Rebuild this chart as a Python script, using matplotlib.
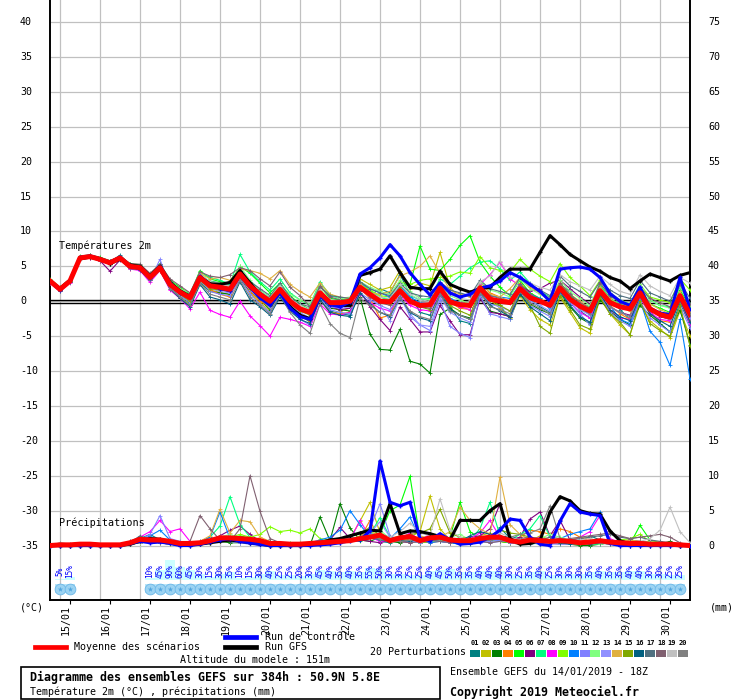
import numpy as np
import matplotlib.pyplot as plt
from matplotlib.lines import Line2D
from matplotlib.patches import Rectangle

plt.rcParams['font.family'] = ['DejaVu Sans Mono']

W, H = 740, 700

# pas de 6h depuis le 14/01 18Z (0 .. 64 = 384h)
steps = np.arange(65)
day_steps = list(range(1, 64, 4))
days = ['15/01', '16/01', '17/01', '18/01', '19/01', '20/01', '21/01', '22/01',
        '23/01', '24/01', '25/01', '26/01', '27/01', '28/01', '29/01', '30/01']

# --- temperatures 2m (degC) ---
mean_temp = [2.9, 1.7, 2.9, 6.2, 6.4, 6.0, 5.5, 6.2, 5.0, 4.8, 3.4, 4.8, 2.4,
             1.3, 0.5, 3.4, 2.2, 2.0, 1.7, 3.9, 2.2, 1.0, 0.0, 1.7, 0.0, -1.1,
             -1.6, 1.2, -0.2, -0.2, 0.0, 2.0, 1.0, 0.0, -0.1, 1.5, 0.0, -0.6, -0.5,
             1.9, -0.1, -0.5, -0.6, 1.9, 0.3, 0.0, -0.2, 1.8, 0.5, 0.0, -0.6, 1.9,
             0.3, -0.7, -1.4, 1.5, -0.2, -0.8, -1.1, 1.2, -1.1, -1.9, -2.3, 0.8, -1.9]
ctrl_temp = [2.8, 1.6, 3.0, 6.3, 6.5, 6.1, 5.6, 6.3, 5.1, 4.6, 3.3, 4.9, 2.6,
             1.2, 0.6, 3.6, 2.3, 1.8, 1.5, 3.7, 2.0, 0.5, -0.6, 1.2, -1.0, -2.2,
             -2.6, 0.8, -0.5, -0.8, -0.1, 3.9, 4.8, 6.2, 8.1, 6.5, 4.1, 2.4, 0.9,
             2.6, 1.2, 0.6, 1.0, 1.9, 2.2, 2.9, 4.1, 3.4, 2.4, 1.4, 0.0, 4.6,
             4.8, 4.9, 4.6, 3.4, 1.1, 0.0, -0.6, 2.0, -1.0, -1.7, -1.9, 3.4, -1.1]
gfs_temp = [2.8, 1.8, 3.0, 6.1, 6.3, 6.1, 5.4, 6.0, 5.2, 5.0, 3.6, 5.0, 2.7,
            1.5, 0.7, 3.5, 2.5, 2.4, 2.7, 4.4, 2.6, 1.0, -0.3, 1.5, -0.8, -2.0,
            -2.5, 0.9, -0.4, -0.6, -0.6, 3.7, 4.1, 4.6, 6.5, 4.1, 2.0, 1.8, 1.8,
            4.3, 2.4, 1.8, 1.3, 1.8, 2.0, 3.4, 4.6, 4.6, 4.6, 7.0, 9.4, 8.1,
            6.7, 5.8, 4.9, 4.3, 3.4, 2.9, 1.8, 2.9, 3.9, 3.4, 2.9, 3.7, 4.1]

temp_p01 = [3.1, 1.9, 3.1, 6.3, 6.6, 6.2, 5.6, 6.6, 5.3, 4.9, 3.6, 5.2, 2.9,
            1.0, -0.4, 3.0, 2.9, 2.6, 2.4, 4.1, 2.8, 1.2, 0.2, 1.9, -0.6, -2.0,
            -3.0, 0.6, -1.4, -1.8, -2.0, 1.6, 0.8, 1.8, 1.2, 3.8, 1.0, -1.6, -2.0,
            1.2, -0.8, -2.8, -3.2, 1.4, -0.4, -0.6, -2.6, 1.2, 0.2, -0.8, -1.6, 2.4,
            1.4, -1.4, -2.4, 2.0, 0.6, -1.2, -2.6, 0.4, -1.4, -3.2, -4.4, -0.2, -3.4]
temp_p02 = [2.7, 1.5, 2.8, 6.0, 6.3, 5.8, 5.3, 6.0, 4.6, 4.9, 3.2, 4.4, 2.0,
            0.6, -0.5, 2.8, 1.6, 1.3, 0.9, 3.4, 1.2, -0.2, -1.4, 1.2, -0.8, -2.2,
            -2.8, 1.4, -0.6, -1.4, -1.0, 3.2, 2.4, 1.6, 2.0, 4.4, 1.8, 2.6, 2.2,
            7.0, 2.0, 0.4, -0.8, 2.6, 0.2, -1.0, -2.4, 0.8, -1.2, -2.6, -3.4, 0.6,
            -1.6, -3.8, -4.6, 0.4, -1.8, -3.4, -4.8, -0.4, -2.8, -4.0, -5.2, -1.4, -5.0]
temp_p03 = [3.0, 1.8, 2.9, 6.4, 6.5, 6.1, 5.3, 6.3, 5.2, 4.6, 3.4, 5.0, 2.2,
            0.4, -0.6, 2.6, 1.4, 1.2, 1.0, 3.2, 1.4, 0.2, -1.2, 1.4, -0.6, -2.0,
            -2.6, 0.8, -1.0, -1.2, -1.4, 0.6, -4.7, -6.9, -7.0, -4.0, -8.6, -9.0, -10.3,
            -1.9, -1.0, -2.0, -2.4, 0.6, -1.4, -1.8, -2.2, 1.0, -0.4, -1.2, -1.8, 1.2,
            -0.8, -2.4, -3.2, 0.2, -1.4, -2.6, -3.4, -0.6, -2.0, -3.2, -4.4, -1.2, -6.2]
temp_p04 = [2.6, 1.6, 2.7, 6.1, 6.2, 5.8, 5.6, 6.1, 4.9, 4.5, 3.1, 4.6, 2.2,
            1.4, 0.2, 3.2, 1.6, 1.0, 0.6, 3.6, 1.4, 0.0, -0.8, 1.4, -0.8, -2.0,
            -2.8, 0.2, -1.6, -1.8, -1.6, 1.8, 0.4, -2.4, -2.0, 1.6, -0.2, -0.4, -0.6,
            1.6, -0.2, -1.0, -1.2, 2.8, 1.2, 0.6, 0.0, 2.6, 1.2, 0.2, -0.6, 1.8,
            0.4, -1.0, -1.8, 1.2, -0.6, -1.8, -2.6, 0.4, -1.8, -2.8, -3.0, 0.0, -2.8]
temp_p05 = [3.2, 2.0, 3.2, 6.5, 6.6, 6.3, 5.8, 6.4, 5.4, 5.2, 3.8, 5.4, 3.0,
            2.0, 1.0, 4.4, 3.2, 2.8, 2.6, 5.0, 4.0, 2.6, 1.2, 2.6, 0.8, -0.4,
            -1.2, 2.2, 0.4, 0.2, 0.4, 2.8, 1.4, 0.6, 0.2, 2.2, 2.4, 7.9, 4.6,
            4.4, 6.0, 8.0, 9.4, 5.6, 3.6, 2.0, 0.8, 3.0, 1.2, 0.4, -0.8, 2.4,
            0.8, -0.6, -1.2, 2.2, 0.2, -0.6, -1.0, 2.0, -0.4, -1.0, -1.6, 1.6, -0.8]
temp_p06 = [2.8, 1.6, 2.8, 6.0, 6.2, 5.8, 4.3, 5.9, 4.8, 4.6, 3.2, 4.6, 2.0,
            1.0, 0.2, 3.8, 2.6, 2.0, 1.6, 3.6, 2.4, 0.6, -0.4, 2.2, 0.4, -1.2,
            -1.8, 1.0, -0.8, -1.2, -1.0, 1.4, -0.8, -2.6, -4.2, -0.8, -2.6, -4.4, -4.4,
            -0.6, -2.8, -4.8, -4.8, 0.4, -1.6, -1.8, -2.2, 2.2, 1.4, 1.8, 2.6, 3.0,
            1.8, 0.6, -0.4, 1.4, -0.8, -1.6, -2.0, 1.2, -1.2, -2.2, -2.6, 0.4, -2.2]
temp_p07 = [3.0, 1.8, 3.0, 6.2, 6.4, 6.1, 5.6, 6.4, 5.2, 4.9, 3.5, 5.1, 2.8,
            1.8, 0.8, 4.2, 3.4, 3.0, 2.4, 6.7, 4.2, 2.8, 1.6, 3.2, 1.2, 0.2,
            -0.6, 2.8, 0.8, 0.4, 0.0, 2.4, 1.4, 0.6, 0.2, 2.4, 0.8, 0.2, 0.4,
            3.2, 2.4, 3.6, 4.8, 5.6, 5.8, 4.6, 3.0, 4.2, 2.6, 1.4, 0.6, 2.6,
            1.0, -0.2, -0.8, 2.4, 0.4, -0.4, -1.0, 2.2, 0.2, -0.6, -0.8, 2.0, -0.4]
temp_p08 = [2.6, 1.4, 2.6, 6.0, 6.2, 5.8, 5.3, 6.0, 4.6, 4.4, 2.7, 4.4, 1.6,
            0.4, -1.1, 1.3, -1.3, -1.9, -2.3, 0.0, -2.1, -3.5, -5.0, -2.3, -2.6, -3.0,
            -3.6, -0.4, -1.8, -2.0, -1.6, 1.0, -0.2, -1.0, -1.4, 0.8, -0.6, -1.2, -1.4,
            1.2, -0.2, -0.8, -1.2, 2.4, 3.8, 5.6, 3.2, 2.2, 1.0, 0.0, -0.8, 1.4,
            -0.2, -1.6, -2.4, 0.8, -1.2, -2.4, -2.6, 0.4, -1.6, -2.6, -2.8, 0.2, -3.3]
temp_p09 = [3.0, 1.8, 3.0, 6.3, 6.5, 6.0, 5.6, 6.3, 5.0, 4.8, 3.5, 4.9, 2.6,
            1.6, 0.6, 3.6, 2.2, 2.2, 2.0, 4.2, 2.4, 1.2, 0.2, 2.0, 0.2, -0.8,
            -1.4, 1.6, 0.2, -0.2, 0.4, 2.4, 1.6, 0.8, 0.6, 2.8, 2.4, 3.0, 3.2,
            3.4, 3.6, 4.2, 4.0, 6.4, 4.8, 4.4, 4.2, 6.0, 4.6, 3.6, 2.8, 5.4,
            3.4, 2.2, 0.8, 3.0, 1.2, 0.2, -0.4, 2.4, 0.6, 0.2, -0.2, 3.2, 1.6]
temp_p10 = [2.8, 1.6, 2.9, 6.2, 6.4, 6.0, 5.7, 6.4, 5.1, 4.9, 3.5, 5.3, 2.6,
            1.2, 0.4, 3.6, 2.4, 2.2, 1.8, 4.4, 2.6, 1.4, 0.4, 2.0, 0.2, -1.0,
            -1.8, 0.8, -0.4, -0.6, -0.4, 2.6, 1.8, 1.2, 0.6, 2.2, 0.6, -0.2, -0.4,
            1.8, 0.4, -0.2, -0.4, 2.0, 0.8, 0.6, 0.4, 2.4, 1.0, 0.4, -1.2, 2.2,
            0.6, -0.8, -2.0, 1.6, -0.6, -2.6, -3.2, 0.2, -4.3, -5.9, -9.2, -2.6, -11.1]
temp_p11 = [2.7, 1.5, 2.7, 6.1, 6.3, 5.9, 5.4, 6.0, 4.8, 4.5, 3.0, 6.0, 2.0,
            0.8, -0.2, 3.0, 1.4, 1.0, 0.8, 3.2, 1.0, -0.4, -1.6, 1.0, -1.0, -2.6,
            -3.4, 0.4, -1.2, -1.6, -1.8, 1.2, 0.2, -0.6, -1.2, 0.8, -2.2, -3.4, -4.2,
            0.2, -3.6, -4.6, -5.2, 0.8, -1.8, -2.2, -2.6, 1.4, -0.6, -1.4, -2.2, 1.2,
            -0.2, -1.8, -3.4, 0.8, -1.6, -2.8, -3.6, 0.0, -2.4, -3.4, -4.4, -0.8, -3.8]
temp_p12 = [3.1, 1.9, 3.1, 6.4, 6.6, 6.1, 5.6, 6.3, 5.3, 5.0, 3.7, 5.0, 2.9,
            1.8, 1.2, 4.0, 2.8, 2.6, 2.2, 5.0, 3.0, 1.6, 0.6, 2.4, 1.0, 0.2,
            -0.4, 2.4, 1.0, 0.4, 0.6, 2.8, 2.0, 1.4, 1.0, 3.0, 1.4, 0.4, 0.2,
            2.4, 0.8, 0.2, -0.4, 2.8, 1.6, 1.2, 0.6, 3.2, 1.8, 1.0, 0.2, 3.0,
            1.4, 0.4, -0.6, 2.6, 0.8, 0.2, -0.4, 2.4, 0.2, -0.6, -1.0, 2.2, -0.6]
temp_p13 = [2.9, 1.6, 2.8, 6.1, 6.3, 5.9, 5.5, 6.1, 4.9, 4.7, 3.2, 4.7, 2.2,
            0.9, 0.0, 3.0, 1.8, 1.4, 1.2, 3.4, 1.6, 0.4, -0.8, 1.4, -0.4, -1.6,
            -2.4, 0.8, -0.8, -1.0, -0.8, 1.8, 0.6, -0.6, -2.8, 0.4, -1.8, -3.4, -3.6,
            0.6, -1.6, -2.4, -3.0, 1.2, -0.4, -0.8, -1.4, 1.6, 0.0, -0.6, -1.4, 1.6,
            0.0, -1.2, -2.0, 1.2, -0.8, -1.6, -2.2, 0.8, -1.2, -2.0, -2.6, 0.6, -2.4]
temp_p14 = [2.8, 1.7, 2.9, 6.2, 6.5, 6.1, 5.5, 6.2, 5.0, 4.9, 3.5, 4.9, 2.6,
            1.4, 0.6, 4.0, 3.2, 3.4, 3.0, 4.6, 4.4, 4.0, 3.2, 4.4, 2.4, 1.4,
            0.6, 2.6, 1.0, 0.6, 0.4, 2.6, 1.2, 1.0, 1.4, 3.6, 4.2, 5.0, 6.5,
            4.0, 1.6, 1.0, 0.6, 2.2, 1.0, 0.6, 1.8, 3.4, 2.0, 1.2, 0.4, 2.6,
            1.0, 0.0, -1.0, 2.0, 0.4, -0.6, -1.4, 1.6, -0.4, -1.2, -1.8, 1.4, -1.4]
temp_p15 = [2.7, 1.6, 2.8, 6.1, 6.3, 5.9, 5.4, 6.1, 4.9, 4.6, 3.2, 4.6, 2.2,
            1.0, 0.0, 3.0, 1.8, 1.6, 1.4, 3.4, 1.8, 0.4, -0.6, 1.6, -0.4, -1.4,
            -2.0, 1.0, -0.6, -0.8, -0.6, 2.2, 1.2, 0.0, -0.4, 2.0, 0.2, -0.8, -1.2,
            1.6, -0.6, -1.4, -2.0, 1.6, 0.2, -0.6, -1.4, 1.6, -0.6, -3.6, -4.6, 0.8,
            -1.2, -3.4, -4.0, 0.6, -1.8, -3.0, -4.8, 0.0, -3.2, -4.2, -5.0, -0.6, -6.4]
temp_p16 = [2.8, 1.5, 2.7, 6.0, 6.3, 5.9, 5.4, 6.0, 4.7, 4.5, 3.0, 4.5, 1.8,
            0.4, -0.8, 2.4, 0.6, 0.2, -0.4, 2.8, 0.2, -0.8, -2.0, 0.6, -1.4, -2.6,
            -3.2, 0.2, -1.6, -2.0, -2.2, 1.2, -0.4, -1.6, -2.2, 0.6, -1.6, -2.4, -2.8,
            1.0, -1.2, -2.0, -2.6, 1.2, -0.6, -1.4, -2.2, 1.0, -0.8, -1.8, -2.8, 1.4,
            -0.6, -2.2, -3.0, 1.0, -1.2, -2.2, -2.8, 0.8, -1.8, -2.8, -3.6, 0.2, -3.0]
temp_p17 = [3.0, 1.8, 3.0, 6.2, 6.5, 6.1, 5.6, 6.3, 5.1, 5.0, 3.6, 5.0, 2.6,
            1.4, 0.4, 3.4, 2.6, 2.6, 2.2, 4.2, 2.8, 1.8, 0.8, 2.6, 0.6, -0.4,
            -0.8, 2.0, 0.8, 0.6, 0.4, 2.8, 1.8, 1.2, 0.8, 2.6, 1.2, 0.8, 0.6,
            2.8, 1.6, 1.2, 0.8, 3.0, 1.8, 1.4, 1.0, 3.4, 2.4, 1.6, 0.8, 3.6,
            2.2, 1.4, 0.6, 2.8, 1.6, 0.8, 0.4, 3.0, 1.2, 0.6, 0.0, 2.8, 0.4]
temp_p18 = [3.1, 2.0, 3.2, 6.4, 6.6, 6.2, 5.8, 6.4, 5.4, 5.3, 4.0, 5.3, 3.2,
            2.2, 1.2, 4.2, 3.6, 3.4, 3.8, 4.8, 4.4, 3.2, 2.2, 4.2, 2.0, 0.8,
            -0.8, 2.2, 0.6, 0.2, 0.0, 1.8, 0.6, -0.2, -0.6, 1.4, 0.0, -0.8, -1.0,
            2.0, 0.2, -0.4, -0.8, 2.2, 0.8, 0.4, -0.2, 2.4, 1.0, 0.2, -0.6, 2.6,
            1.0, -0.2, -1.0, 2.6, 0.8, -0.2, -0.8, 2.0, 0.4, -0.2, -0.8, 2.4, -0.4]
temp_p19 = [2.9, 1.8, 3.0, 6.2, 6.4, 6.0, 5.6, 6.2, 5.1, 5.0, 3.6, 5.0, 2.6,
            1.6, 0.8, 3.8, 2.8, 2.4, 2.2, 4.4, 2.6, 1.2, 0.4, 2.2, 0.4, -0.6,
            -1.2, 1.6, 0.2, 0.0, 0.2, 2.2, 1.2, 0.6, 0.4, 2.4, 1.0, 0.2, 0.0,
            2.6, 1.0, 0.4, 0.2, 2.8, 3.6, 5.8, 3.4, 3.6, 2.6, 2.0, 1.6, 3.8,
            2.8, 2.2, 1.6, 3.6, 2.4, 1.4, 1.0, 3.8, 2.2, 1.4, 0.8, 3.4, 2.6]
temp_p20 = [2.7, 1.5, 2.7, 6.0, 6.2, 5.8, 5.3, 6.0, 4.7, 4.5, 3.0, 4.4, 1.8,
            0.6, -0.6, 2.6, 1.0, 0.6, 0.2, 3.0, 0.6, -0.6, -1.8, 1.0, -1.6, -3.4,
            -4.6, -0.4, -3.2, -4.6, -5.2, 0.4, -0.6, -1.6, -2.0, 0.6, -1.4, -2.2, -2.6,
            1.0, -1.4, -2.0, -2.6, 1.2, -0.8, -1.2, -1.8, 1.4, -0.2, -1.0, -1.8, 1.6,
            0.2, -1.0, -1.8, 1.4, -0.8, -1.6, -2.2, 1.0, -1.0, -1.6, -2.2, 0.8, -1.8]

# --- precipitations (mm / 6h) ---
mean_prec = [0.0, 0.1, 0.1, 0.2, 0.2, 0.1, 0.1, 0.1, 0.4, 0.9, 0.8, 0.8, 0.6,
             0.3, 0.3, 0.4, 0.7, 1.1, 1.1, 1.0, 0.9, 0.7, 0.3, 0.3, 0.2, 0.2,
             0.3, 0.4, 0.5, 0.6, 0.7, 1.0, 1.2, 1.5, 0.7, 1.1, 1.3, 0.7, 1.1,
             1.2, 0.8, 0.7, 0.7, 1.0, 1.2, 1.2, 0.7, 0.5, 0.8, 0.7, 0.6, 0.7,
             0.6, 0.4, 0.5, 0.7, 0.5, 0.4, 0.3, 0.3, 0.2, 0.2, 0.2, 0.1, 0.0]
ctrl_prec = [0.0, 0.0, 0.0, 0.0, 0.0, 0.0, 0.0, 0.0, 0.3, 0.6, 0.4, 0.5, 0.3,
             0.0, 0.0, 0.2, 0.5, 0.8, 1.0, 0.6, 0.4, 0.2, 0.0, 0.0, 0.0, 0.0,
             0.0, 0.1, 0.2, 0.4, 0.7, 0.8, 2.1, 12.1, 6.2, 5.7, 6.2, 1.0, 0.7,
             1.7, 0.8, 0.2, 0.3, 0.5, 1.2, 2.2, 3.8, 3.6, 1.2, 0.2, 0.0, 3.5,
             6.0, 4.8, 4.5, 4.3, 0.3, 0.0, 0.0, 0.0, 0.0, 0.0, 0.0, 0.0, 0.0]
gfs_prec = [0.0, 0.0, 0.0, 0.0, 0.0, 0.0, 0.0, 0.0, 0.2, 0.6, 1.0, 0.9, 0.4,
            0.2, 0.1, 0.2, 0.4, 0.6, 0.8, 0.6, 0.4, 0.2, 0.0, 0.0, 0.0, 0.0,
            0.2, 0.4, 0.8, 1.0, 1.4, 1.8, 2.2, 2.1, 6.0, 1.7, 2.1, 2.0, 1.7,
            1.3, 0.8, 3.6, 3.6, 3.6, 5.0, 6.0, 1.0, 0.2, 0.3, 0.7, 4.8, 7.0,
            6.4, 5.0, 4.6, 4.5, 2.1, 0.7, 0.2, 0.1, 0.1, 0.1, 0.1, 0.0, 0.0]

prec_p01 = [0, 0, 0, 0, 0, 0, 0, 0, 0.2, 1.0, 1.6, 0.8, 0.4,
            0.2, 0.2, 0.4, 0.6, 1.0, 0.8, 0.6, 0.6, 0.4, 0.2, 0, 0, 0,
            0.2, 0.4, 0.6, 0.4, 0.8, 1.0, 1.8, 0.6, 0.4, 1.2, 0.8, 0.4, 0.6,
            1.0, 0.6, 0.4, 0.2, 1.2, 0.8, 2.6, 1.0, 0.6, 0.4, 0.2, 0.4, 1.0,
            0.6, 0.4, 1.4, 0.8, 0.4, 0.2, 0, 0, 0, 0, 0, 0, 0]
prec_p02 = [0, 0, 0, 0, 0, 0, 0, 0, 0.2, 0.4, 0.6, 0.4, 0.2,
            0, 0, 0.2, 0.4, 1.2, 0.8, 0.6, 0.4, 0.2, 0.2, 0, 0.2, 0.4,
            0.4, 0.6, 0.8, 0.6, 1.0, 3.5, 6.2, 1.8, 1.0, 1.4, 1.2, 2.0, 7.1,
            2.4, 0.8, 0.6, 0.4, 1.4, 1.8, 0.6, 0.4, 0.2, 0.6, 1.4, 0.8, 0.4,
            0.4, 0.2, 0.2, 0.4, 0.2, 0, 0, 0, 0, 0, 0, 0, 0]
prec_p03 = [0, 0, 0, 0, 0, 0, 0, 0, 0.2, 0.4, 0.6, 0.6, 0.4,
            0.2, 0, 0.2, 0.4, 0.6, 0.4, 0.4, 0.6, 0.2, 0, 0, 0, 0,
            0, 4.1, 0.7, 6.0, 2.5, 0.8, 0.6, 1.2, 0.6, 0.4, 0.8, 0.4, 0.6,
            0.6, 0.4, 0.2, 0.4, 0.6, 0.8, 0.6, 0.4, 0.2, 0.8, 1.0, 0.6, 0.2,
            0.2, 0, 0, 0.2, 0.6, 0.4, 0.2, 0.2, 0.4, 0.2, 0.6, 0, 0]
prec_p04 = [0, 0, 0, 0, 0, 0, 0, 0, 0.4, 0.8, 0.6, 0.4, 0.2,
            0, 0, 0.2, 0.6, 1.4, 0.8, 0.6, 0.4, 0.2, 0, 0, 0, 0,
            0.2, 0.4, 0.6, 0.4, 0.8, 1.0, 3.6, 0.8, 0.6, 0.8, 1.0, 0.6, 0.4,
            0.6, 0.8, 0.4, 0.6, 0.8, 1.0, 0.6, 0.4, 1.2, 2.2, 2.0, 1.6, 2.4,
            2.0, 1.2, 0.6, 0.4, 0.2, 0.2, 0.4, 0.6, 0.4, 0.2, 0, 0, 0]
prec_p05 = [0, 0, 0, 0, 0, 0, 0, 0, 0.2, 0.6, 1.0, 0.6, 0.4,
            0.2, 0.2, 0.4, 0.6, 0.8, 1.0, 1.4, 1.0, 0.8, 0.6, 0.4, 0.4, 0.2,
            0.2, 0.4, 0.6, 0.8, 1.0, 0.6, 1.2, 1.6, 5.0, 5.8, 9.9, 1.0, 0.8,
            0.6, 1.2, 6.2, 2.0, 1.0, 0.8, 0.6, 0.4, 0.4, 0.2, 0.4, 0.6, 0.4,
            0.2, 0.4, 0.2, 0.6, 0.4, 0.2, 0.2, 2.9, 0.8, 0.4, 0.2, 0, 0]
prec_p06 = [0, 0, 0, 0, 0, 0, 0, 0, 0.2, 0.4, 0.6, 0.4, 0.2,
            0, 0, 0.2, 0.8, 1.4, 2.2, 2.8, 1.6, 0.6, 0.4, 0.2, 0, 0,
            0.2, 0.4, 0.8, 2.6, 1.0, 0.8, 0.6, 0.4, 0.8, 0.6, 0.4, 0.8, 1.0,
            0.8, 0.6, 0.4, 1.2, 1.4, 2.4, 6.0, 0.8, 1.2, 3.8, 4.8, 1.4, 3.6,
            0.8, 0.4, 0.6, 0.2, 0.4, 0.6, 0.8, 0.6, 0.4, 0.2, 0, 0, 0]
prec_p07 = [0, 0, 0, 0, 0, 0, 0, 0, 0.2, 0.6, 0.8, 0.6, 0.2,
            0.2, 0, 0.4, 1.2, 2.8, 7.0, 3.0, 1.2, 0.6, 0.4, 0.2, 0, 0,
            0.2, 0.4, 0.6, 1.0, 1.4, 0.8, 1.6, 4.0, 1.2, 0.8, 1.4, 0.6, 0.8,
            1.0, 0.6, 1.2, 0.8, 2.4, 6.2, 1.4, 0.8, 1.6, 2.4, 4.3, 1.2, 0.6,
            0.4, 0.6, 0.2, 0.2, 0.4, 0.2, 0, 0, 0, 0, 0, 0, 0]
prec_p08 = [0, 0, 0, 0, 0, 0, 0, 0, 0.4, 1.2, 2.0, 3.6, 2.0,
            2.4, 0.6, 0.4, 0.6, 0.8, 1.0, 0.6, 0.4, 0.2, 0.2, 0, 0, 0,
            0.2, 0.2, 0.4, 0.6, 0.8, 3.6, 1.2, 0.6, 0.8, 1.0, 1.8, 0.8, 1.6,
            1.2, 0.8, 0.6, 1.0, 1.8, 3.6, 1.2, 0.6, 0.4, 0.8, 1.2, 0.6, 0.4,
            0.6, 1.2, 2.0, 4.3, 1.0, 0.4, 0.2, 0, 0, 0, 0, 0, 0]
prec_p09 = [0, 0, 0, 0, 0, 0, 0, 0, 0.2, 0.4, 1.0, 0.6, 0.4,
            0.2, 0.2, 0.4, 0.6, 0.8, 1.2, 1.6, 1.2, 1.6, 2.7, 2.0, 2.2, 1.8,
            2.4, 1.0, 0.8, 0.6, 0.8, 1.4, 2.0, 1.2, 0.8, 1.0, 0.6, 0.4, 0.6,
            0.8, 0.4, 0.6, 0.8, 1.0, 0.6, 0.8, 1.2, 0.8, 0.4, 0.6, 0.4, 0.2,
            0.2, 0.4, 0.2, 0.4, 0.6, 0.8, 1.0, 1.6, 0.6, 0.4, 0.2, 0, 0]
prec_p10 = [0, 0, 0, 0, 0, 0, 0, 0, 0.2, 0.6, 1.4, 2.2, 0.8,
            0.4, 0.2, 0.6, 1.2, 4.8, 1.0, 0.6, 0.4, 0.2, 0, 0, 0, 0.2,
            0.4, 0.8, 1.2, 2.2, 5.0, 3.0, 1.2, 0.8, 1.0, 2.4, 4.1, 0.8, 0.4,
            0.6, 0.4, 0.2, 0.4, 0.8, 1.0, 0.6, 1.2, 0.8, 0.6, 0.4, 0.6, 1.0,
            1.6, 2.0, 2.4, 4.8, 0.6, 0.2, 0, 0, 0, 0, 0, 0, 0]
prec_p11 = [0, 0, 0, 0, 0, 0, 0, 0, 0.2, 0.8, 1.6, 4.3, 1.0,
            0.6, 0.2, 0.4, 0.6, 0.8, 0.6, 0.4, 0.2, 0, 0, 0, 0, 0,
            0.2, 0.4, 0.6, 0.8, 1.0, 1.2, 2.4, 6.0, 1.4, 0.8, 0.6, 0.4, 0.8,
            0.6, 0.4, 0.8, 0.6, 0.4, 0.6, 0.8, 0.4, 0.2, 0.4, 0.6, 0.4, 0.2,
            0.2, 0.4, 0.6, 0.4, 0.2, 0, 0, 0, 0, 0, 0, 0, 0]
prec_p12 = [0, 0, 0, 0, 0, 0, 0, 0, 0.2, 0.4, 0.8, 0.6, 0.4,
            0.2, 0.2, 0.4, 0.8, 1.2, 1.6, 1.0, 0.6, 0.4, 0.2, 0, 0, 0,
            0.2, 0.2, 0.4, 0.6, 0.8, 1.0, 1.4, 2.2, 1.0, 0.8, 1.2, 1.0, 0.6,
            0.8, 1.2, 1.6, 0.8, 0.6, 1.0, 1.4, 0.8, 0.6, 0.8, 1.0, 1.6, 1.2,
            0.8, 0.6, 0.4, 0.2, 0.4, 0.2, 0.2, 0.4, 0.6, 0.4, 0.2, 0, 0]
prec_p13 = [0, 0, 0, 0, 0, 0, 0, 0, 0.2, 0.6, 0.8, 0.6, 0.4,
            0.2, 0, 0.2, 0.6, 0.8, 0.6, 0.4, 0.2, 0, 0, 0, 0, 0,
            0, 0.2, 0.4, 0.6, 0.8, 1.0, 1.8, 3.4, 1.2, 0.8, 0.6, 0.6, 0.8,
            0.6, 0.4, 0.6, 0.8, 0.6, 0.4, 0.6, 0.8, 0.4, 0.2, 0.4, 0.2, 0.2,
            0.2, 0.4, 0.2, 0.4, 0.2, 0, 0, 0, 0, 0, 0, 0, 0]
prec_p14 = [0, 0, 0, 0, 0, 0, 0, 0, 0.2, 0.4, 0.6, 0.4, 0.2,
            0, 0.2, 0.6, 1.4, 5.2, 1.8, 3.6, 3.4, 1.2, 0.6, 0.4, 0.2, 0,
            0.2, 0.4, 0.6, 0.8, 1.0, 1.2, 2.4, 1.0, 0.8, 0.6, 0.8, 1.4, 1.0,
            1.2, 2.0, 5.5, 3.6, 2.4, 1.6, 9.8, 3.0, 1.6, 0.8, 0.6, 0.4, 0.6,
            0.8, 1.2, 1.0, 0.6, 0.4, 0.6, 0.8, 0.6, 0.4, 0.2, 0, 0, 0]
prec_p15 = [0, 0, 0, 0, 0, 0, 0, 0, 0.2, 0.4, 0.6, 0.4, 0.2,
            0.2, 0, 0.2, 0.4, 0.6, 0.8, 0.6, 0.4, 0.2, 0, 0, 0, 0,
            0.2, 0.4, 0.6, 1.0, 1.4, 1.8, 2.6, 1.4, 1.0, 1.2, 1.6, 1.8, 2.4,
            5.2, 1.8, 1.2, 1.0, 0.8, 1.4, 2.2, 1.8, 1.6, 1.2, 1.0, 0.6, 0.4,
            0.4, 0.2, 0.4, 0.6, 0.4, 0.2, 0, 0, 0, 0, 0, 0, 0]
prec_p16 = [0, 0, 0, 0, 0, 0, 0, 0, 0.6, 1.2, 1.0, 0.8, 0.4,
            0.2, 0.2, 0.4, 0.6, 0.8, 1.0, 0.8, 0.6, 0.2, 0, 0, 0, 0,
            0.2, 0.4, 0.6, 0.8, 1.0, 1.2, 1.4, 1.6, 1.2, 0.8, 0.6, 1.0, 0.8,
            1.2, 0.8, 0.6, 1.4, 2.0, 1.6, 1.2, 1.4, 0.8, 0.6, 0.4, 0.6, 0.4,
            0.2, 0.4, 0.2, 0.4, 0.2, 0, 0, 0, 0, 0, 0, 0, 0]
prec_p17 = [0, 0, 0, 0, 0, 0, 0, 0, 0.4, 1.4, 0.8, 0.6, 0.4,
            0.2, 0, 0.2, 0.4, 0.6, 0.8, 0.6, 0.4, 0.2, 0, 0, 0, 0,
            0.2, 0.2, 0.4, 0.6, 0.8, 1.0, 1.2, 0.8, 0.6, 1.0, 1.2, 1.0, 0.8,
            0.6, 0.8, 1.0, 0.8, 0.6, 0.8, 1.0, 1.2, 0.8, 0.6, 0.8, 1.2, 1.0,
            0.8, 1.0, 1.2, 1.4, 1.6, 1.2, 1.0, 1.2, 0.8, 0.6, 0.4, 0.2, 0]
prec_p18 = [0, 0, 0, 0, 0, 0, 0, 0, 0.2, 0.6, 0.8, 0.6, 0.4,
            0.2, 0.6, 4.3, 2.4, 0.8, 0.6, 2.4, 10.0, 4.9, 1.0, 0.4, 0.2, 0,
            0.2, 0.4, 0.6, 0.8, 1.0, 1.2, 1.4, 1.0, 0.8, 0.6, 0.4, 0.6, 0.8,
            0.6, 0.4, 0.6, 0.8, 0.6, 0.4, 0.6, 0.8, 1.0, 1.2, 1.0, 0.8, 0.6,
            1.0, 1.2, 1.4, 1.6, 1.8, 1.4, 1.0, 1.2, 1.4, 1.6, 1.2, 0.4, 0]
prec_p19 = [0, 0, 0, 0, 0, 0, 0, 0, 0.2, 0.4, 0.6, 0.4, 0.2,
            0.2, 0, 0.2, 0.4, 0.6, 0.8, 1.0, 0.8, 0.4, 0.2, 0, 0, 0,
            0.2, 0.4, 0.6, 0.8, 1.0, 1.2, 1.4, 1.6, 1.2, 2.0, 3.2, 1.8, 1.4,
            6.7, 2.2, 1.2, 0.8, 1.0, 1.4, 1.8, 1.2, 0.8, 0.6, 0.4, 0.6, 0.8,
            0.6, 0.8, 1.0, 0.6, 0.4, 0.2, 0.4, 0.6, 1.0, 2.2, 5.5, 2.0, 0.4]
prec_p20 = [0, 0.4, 0.2, 0, 0, 0, 0, 0, 0.4, 0.8, 1.2, 0.8, 0.6,
            0.4, 0.2, 0.4, 0.6, 0.8, 1.0, 0.8, 0.6, 0.4, 0.2, 0, 0, 0,
            0.2, 0.4, 0.6, 0.8, 1.0, 0.8, 1.2, 1.0, 0.8, 0.6, 0.8, 1.0, 1.2,
            1.0, 0.8, 0.6, 0.4, 0.6, 0.8, 1.0, 1.2, 1.6, 1.8, 2.4, 5.7, 1.0,
            0.6, 0.4, 0.6, 0.4, 0.2, 0.2, 0.4, 0.6, 0.4, 0.2, 0, 0, 0]

# probabilite de precipitations (%)
pct_steps = [1, 2] + list(range(10, 64))
pct_values = [5, 15,
              10, 45, 90, 60, 45, 30, 15, 30, 35, 10,
              15, 30, 40, 25, 25, 20, 30, 45, 40, 35,
              40, 35, 55, 50, 30, 30, 25, 25, 40, 45,
              50, 35, 35, 40, 40, 40, 30, 25, 35, 40,
              25, 30, 30, 30, 35, 40, 35, 35, 40, 40,
              30, 30, 25, 25]

pert_colors = ['#008080', '#C0C000', '#008000', '#FF8000', '#00FF00',
               '#800080', '#00FF80', '#FF00FF', '#80FF00', '#0080FF',
               '#8080FF', '#80FF80', '#9090FF', '#E0B040', '#80A800',
               '#006080', '#507080', '#806070', '#C0C0C0', '#808080']
pert_temp = [temp_p01, temp_p02, temp_p03, temp_p04, temp_p05, temp_p06, temp_p07,
             temp_p08, temp_p09, temp_p10, temp_p11, temp_p12, temp_p13, temp_p14,
             temp_p15, temp_p16, temp_p17, temp_p18, temp_p19, temp_p20]
pert_prec = [prec_p01, prec_p02, prec_p03, prec_p04, prec_p05, prec_p06, prec_p07,
             prec_p08, prec_p09, prec_p10, prec_p11, prec_p12, prec_p13, prec_p14,
             prec_p15, prec_p16, prec_p17, prec_p18, prec_p19, prec_p20]

YLO, YHI = -42.8, 43.15

fig = plt.figure(figsize=(W / 100, H / 100), dpi=100)
ax = fig.add_axes([50 / W, 100 / H, 640 / W, 600 / H])
ax.set_xlim(0, 64)
ax.set_ylim(YLO, YHI)

# grille
ax.set_yticks(range(-35, 41, 5))
ax.set_xticks(day_steps)
ax.set_xticks(range(2, 64, 4), minor=True)
ax.grid(True, which='major', color='#C0C0C0', lw=0.9)
ax.tick_params(which='major', length=0, labelleft=False, labelbottom=False)
ax.tick_params(which='minor', length=3, width=0.8, direction='out')
ax.tick_params(axis='y', which='minor', length=0)
for side in ['left', 'right', 'bottom']:
    ax.spines[side].set_linewidth(1.4)
ax.spines['top'].set_visible(False)

ax.axhline(0.19, color='black', lw=1.0, zorder=3)
ax.axhline(-0.19, color='black', lw=1.0, zorder=3)

for v in range(-35, 41, 5):
    ax.text(-0.047, v, str(v), transform=ax.get_yaxis_transform(),
            ha='left', va='center', fontsize=7.2)
for s, d in zip(day_steps, days):
    ax.text(s + 0.6, -0.008, d, transform=ax.get_xaxis_transform(), rotation=90,
            ha='center', va='top', fontsize=7.2)

ax.text(0.9, 7.9, 'Températures 2m', fontsize=7.3, va='center', zorder=6)
ax.text(0.9, -31.7, 'Précipitations', fontsize=7.3, va='center', zorder=6)

# probabilites + bande neige
ax.bar(pct_steps, np.array(pct_values) * 0.033, bottom=-40.0, width=1.0,
       color='#CCFFFF', zorder=1)
ax.bar(pct_steps, 1.3, bottom=-41.85, width=1.0, color='#B8E4F8', zorder=1.5)
ax.scatter(pct_steps, [-41.2] * len(pct_steps), s=60, marker='o',
           facecolor='#9CD3F2', edgecolor='#6CB8E8', linewidth=0.6, zorder=2)
ax.scatter(pct_steps, [-41.2] * len(pct_steps), s=16, marker='*',
           color='#4FA6E0', linewidth=0, zorder=2)
for s, p in zip(pct_steps, pct_values):
    ax.text(s, -38.7, f'{p}%', rotation=90, ha='center', va='center',
            color='#0000FF', fontsize=5.6, zorder=3)

# temperatures
for vals, c in zip(pert_temp, pert_colors):
    ax.plot(steps, vals, color=c, lw=0.8, marker='+', ms=3, mew=0.6, zorder=4)
ax.plot(steps, gfs_temp, color='black', lw=2.2, marker='+', ms=3, zorder=5)
ax.plot(steps, ctrl_temp, color='#0000FF', lw=2.2, marker='+', ms=3, zorder=5)
ax.plot(steps, mean_temp, color='#FF0000', lw=3.6, zorder=6)

# precipitations sur l'echelle de droite (mm)
ax2 = ax.twinx()
ax2.set_ylim(YLO + 35, YHI + 35)
ax2.set_axis_off()
for v in range(0, 76, 5):
    ax2.text(1.028, v, str(v), transform=ax2.get_yaxis_transform(),
             ha='left', va='center', fontsize=7.2)
for vals, c in zip(pert_prec, pert_colors):
    ax2.plot(steps, vals, color=c, lw=0.8, marker='+', ms=3, mew=0.6, zorder=4)
ax2.plot(steps, gfs_prec, color='black', lw=2.2, marker='+', ms=3, zorder=5)
ax2.plot(steps, ctrl_prec, color='#0000FF', lw=2.2, marker='+', ms=3, zorder=5)
ax2.plot(steps, mean_prec, color='#FF0000', lw=3.6, zorder=6)


# --- zone legende (coordonnees pixels) ---
def fx(px):
    return px / W


def fy(py):
    return 1 - py / H


def ftext(px, py, s, **kw):
    fig.text(fx(px), fy(py), s, va='center', ha='left', **kw)


def fline(x0, x1, py, color):
    fig.add_artist(Line2D([fx(x0), fx(x1)], [fy(py), fy(py)], color=color, lw=3.4,
                          transform=fig.transFigure))


ftext(20, 607, '(°C)', fontsize=7.2)
ftext(710, 607, '(mm)', fontsize=7.2)

fline(35, 66, 647, '#FF0000')
ftext(74, 647, 'Moyenne des scénarios', fontsize=7.2)
fline(225, 256, 637, '#0000FF')
ftext(265, 637, 'Run de contrôle', fontsize=7.2)
fline(225, 256, 647, 'black')
ftext(265, 647, 'Run GFS', fontsize=7.2)
ftext(180, 660, 'Altitude du modele : 151m', fontsize=7.2)

fig.add_artist(Rectangle((fx(20.5), fy(699)), (440 - 20.5) / W, 32 / H, fill=False,
                         edgecolor='black', lw=1.2, transform=fig.transFigure))
ftext(30, 677, 'Diagramme des ensembles GEFS sur 384h : 50.9N 5.8E',
      fontsize=8.4, fontweight='bold')
ftext(30, 692, 'Température 2m (°C) , précipitations (mm)', fontsize=7.2)

ftext(370, 652, '20 Perturbations', fontsize=7.2)
for k, c in enumerate(pert_colors):
    x0 = 470 + 10.95 * k
    fig.add_artist(Rectangle((fx(x0), fy(656.5)), 10 / W, 7 / H, facecolor=c,
                             edgecolor='none', transform=fig.transFigure))
    fig.text(fx(x0 + 5), fy(643), f'{k + 1:02d}', ha='center', va='center',
             fontsize=5, fontweight='bold')

ftext(450, 672, 'Ensemble GEFS du 14/01/2019 - 18Z', fontsize=7.2)
ftext(450, 692, 'Copyright 2019 Meteociel.fr', fontsize=8.4, fontweight='bold')

fig.savefig('out.png', dpi=100)
